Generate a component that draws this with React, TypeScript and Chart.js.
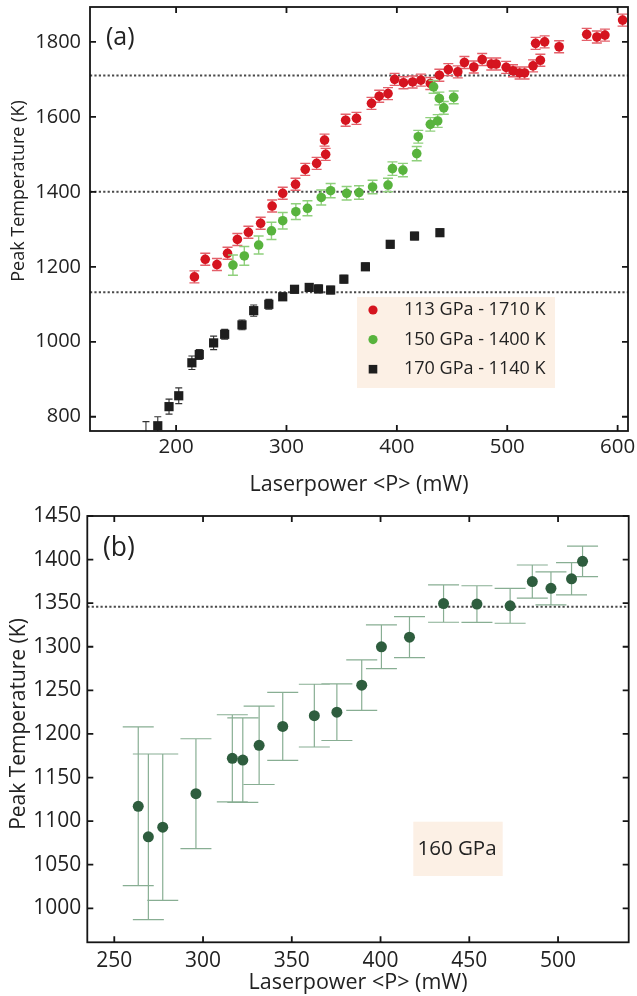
import React, { useEffect, useRef } from "react";
import { Chart, registerables } from "chart.js";

Chart.register(...registerables);

const FONT = "'Open Sans', 'Noto Sans', sans-serif";
const TEXT = "#222222";

// ---------- Panel (a) data ----------
const redX = [216.6, 226.4, 237, 246.6, 255.5, 265.5, 276.6, 287, 296.6, 308.2, 317, 327.3, 334.5, 335.5, 353.6, 363.4, 377, 384, 392, 398, 406, 414.3, 421.8, 430.3, 438.5, 446.6, 455.2, 461.2, 469.7, 477.3, 485.5, 490, 499, 505.2, 511.2, 515.7, 523.4, 525.7, 530, 533.9, 547, 572, 581.2, 588.5, 604.5];
const redY = [1173, 1220, 1206, 1236, 1273, 1292, 1316, 1362, 1396, 1420, 1460, 1476, 1538, 1500, 1591, 1596, 1636, 1655, 1662, 1700, 1691, 1693, 1698, 1689, 1711, 1726, 1720, 1745, 1733, 1753, 1741, 1741, 1732, 1723, 1717, 1717, 1736, 1796, 1751, 1800, 1787, 1820, 1813, 1818, 1858];
const redErr = redX.map(() => 16);

const greenX = [251.5, 261.8, 274.8, 286.4, 296.6, 308.5, 319, 331.5, 340, 354.5, 365.7, 378, 392, 396, 405.5, 418, 419.4, 430.3, 433.3, 437, 438.5, 442.5, 451.5];
const greenY = [1204.5, 1229, 1258, 1296, 1323, 1347, 1356, 1385, 1403, 1396, 1398, 1413, 1418, 1462, 1458, 1502, 1547, 1580, 1680, 1589, 1649, 1624, 1652];
const greenErr = [27, 25, 24, 23, 22, 21, 20, 20, 19, 18, 18, 18, 18, 18, 18, 19, 17, 18, 17, 17, 17, 17, 17];

const blackX = [172.7, 183.4, 193.6, 202.4, 214.3, 221, 234, 244, 259.7, 270.3, 284, 296.6, 307.3, 320.6, 329, 340, 352, 371.5, 394, 416, 439];
const blackY = [745, 776, 827, 856, 944, 966, 997, 1020, 1045, 1083, 1100, 1120, 1140, 1145, 1141, 1138, 1167, 1200, 1260, 1282, 1291];
const blackErr = [42, 24, 20, 21, 18, 13, 18, 13, 13, 15, 13, 10, 10, 10, 10, 10, 10, 10, 10, 10, 10];

const refLinesA = [1710, 1400, 1132];
const xRangeA = [122, 609.4];
const yRangeA = [762, 1893];
const xTicksA = [200, 300, 400, 500, 600];
const yTicksA = [800, 1000, 1200, 1400, 1600, 1800];
const legendLabelsA = ["113 GPa - 1710 K", "150 GPa - 1400 K", "170 GPa - 1140 K"];

// ---------- Panel (b) data ----------
const bX = [263.5, 269.2, 277.3, 296, 316.5, 322.4, 331.6, 344.9, 362.7, 375.4, 389.4, 400.5, 416.3, 435.5, 454.3, 473, 485.5, 496, 507.6, 513.8];
const bY = [1117, 1082, 1093, 1131.5, 1172, 1170, 1187, 1208.6, 1221, 1225, 1256, 1300, 1311, 1349.6, 1349, 1347, 1374.8, 1367, 1378, 1398];
const bErr = [91, 95, 84, 63, 50, 48.5, 45, 39, 36, 32.5, 29, 25, 23.5, 21.5, 21, 20, 19, 19, 18.5, 17.5];

const refLinesB = [1346];
const xRangeB = [234.8, 539.8];
const yRangeB = [961, 1450];
const xTicksB = [250, 300, 350, 400, 450, 500];
const yTicksB = [1000, 1050, 1100, 1150, 1200, 1250, 1300, 1350, 1400, 1450];
const boxLabelB = "160 GPa";

const xTitle = "Laserpower <P> (mW)";
const yTitle = "Peak Temperature (K)";

const zip = (xs: number[], ys: number[]) => xs.map((x, i) => ({ x, y: ys[i] }));

// ---------- Plugins ----------
const errorBarPlugin = {
  id: "errbars",
  beforeDatasetDraw(chart: any, args: any) {
    const ds = chart.data.datasets[args.index];
    if (!ds.errors) return;
    const { ctx, chartArea: a } = chart;
    const ys = chart.scales.y;
    ctx.save();
    ctx.beginPath();
    ctx.rect(a.left, a.top, a.right - a.left, a.bottom - a.top);
    ctx.clip();
    ctx.strokeStyle = ds.errColor;
    ctx.lineWidth = ds.errWidth;
    ctx.beginPath();
    args.meta.data.forEach((el: any, i: number) => {
      const v = ds.data[i];
      const e = ds.errors[i];
      const x = el.x;
      const y1 = ys.getPixelForValue(v.y + e);
      const y2 = ys.getPixelForValue(v.y - e);
      const c = ds.capHalf;
      ctx.moveTo(x, y1);
      ctx.lineTo(x, y2);
      ctx.moveTo(x - c, y1);
      ctx.lineTo(x + c, y1);
      ctx.moveTo(x - c, y2);
      ctx.lineTo(x + c, y2);
    });
    ctx.stroke();
    ctx.restore();
  },
};

const framePlugin = {
  id: "frame",
  afterDatasetsDraw(chart: any) {
    const { ctx, chartArea: a, scales } = chart;
    ctx.save();
    ctx.strokeStyle = "#151515";
    ctx.lineWidth = 1.8;
    ctx.strokeRect(a.left, a.top, a.right - a.left, a.bottom - a.top);
    const tl = 6;
    ctx.beginPath();
    scales.x.ticks.forEach((t: any) => {
      const p = scales.x.getPixelForValue(t.value);
      ctx.moveTo(p, a.bottom);
      ctx.lineTo(p, a.bottom - tl);
      ctx.moveTo(p, a.top);
      ctx.lineTo(p, a.top + tl);
    });
    scales.y.ticks.forEach((t: any) => {
      const p = scales.y.getPixelForValue(t.value);
      ctx.moveTo(a.left, p);
      ctx.lineTo(a.left + tl, p);
      ctx.moveTo(a.right, p);
      ctx.lineTo(a.right - tl, p);
    });
    ctx.stroke();
    ctx.restore();
  },
};

const annotPlugin = {
  id: "annot",
  afterDraw(chart: any, _args: any, opts: any) {
    const { ctx } = chart;
    ctx.save();
    ctx.save();
    ctx.translate(opts.yTitleX, opts.yTitleY);
    ctx.rotate(-Math.PI / 2);
    ctx.font = `${opts.yTitleSize}px ${FONT}`;
    ctx.fillStyle = TEXT;
    ctx.textAlign = "center";
    ctx.textBaseline = "middle";
    ctx.fillText(yTitle, 0, 0);
    ctx.restore();
    ctx.font = `${opts.panelSize}px ${FONT}`;
    ctx.fillStyle = TEXT;
    ctx.textAlign = "left";
    ctx.textBaseline = "middle";
    ctx.fillText(opts.panel, opts.panelX, opts.panelY);
    if (opts.box) {
      const b = opts.box;
      ctx.fillStyle = "#fcf0e5";
      ctx.fillRect(b.x, b.y, b.w, b.h);
    }
    if (opts.legend) {
      const L = opts.legend;
      ctx.font = `${L.size}px ${FONT}`;
      L.items.forEach((it: any, i: number) => {
        const y = L.y0 + i * L.dy;
        ctx.fillStyle = it.color;
        if (it.shape === "rect") {
          ctx.fillRect(L.mx - 4.3, y - 4.3, 8.6, 8.6);
        } else {
          ctx.beginPath();
          ctx.arc(L.mx, y, 4.6, 0, Math.PI * 2);
          ctx.fill();
        }
        ctx.fillStyle = TEXT;
        ctx.textAlign = "left";
        ctx.textBaseline = "middle";
        ctx.fillText(it.label, L.tx, y);
      });
    }
    if (opts.boxText) {
      const t = opts.boxText;
      ctx.font = `${t.size}px ${FONT}`;
      ctx.fillStyle = TEXT;
      ctx.textAlign = "center";
      ctx.textBaseline = "middle";
      ctx.fillText(t.text, t.x, t.y);
    }
    ctx.restore();
  },
};

function makeScales(o: any) {
  return {
    x: {
      type: "linear",
      min: o.xRange[0],
      max: o.xRange[1],
      afterBuildTicks: (s: any) => {
        s.ticks = o.xTicks.map((v: number) => ({ value: v }));
      },
      afterFit: (s: any) => {
        s.height = o.xAxisH;
        s.paddingLeft = 0;
        s.paddingRight = 0;
      },
      grid: { display: false, drawTicks: false },
      border: { display: false },
      ticks: {
        font: { family: FONT, size: o.xTickSize },
        color: TEXT,
        padding: o.xTickPad,
        maxRotation: 0,
        autoSkip: false,
        callback: (v: any) => String(v),
      },
      title: {
        display: true,
        text: xTitle,
        color: TEXT,
        font: { family: FONT, size: o.xTitleSize },
        padding: 0,
      },
    },
    y: {
      type: "linear",
      min: o.yRange[0],
      max: o.yRange[1],
      afterBuildTicks: (s: any) => {
        s.ticks = o.yTicks.map((v: number) => ({ value: v }));
      },
      afterFit: (s: any) => {
        s.width = o.yAxisW;
        s.paddingTop = 0;
        s.paddingBottom = 0;
      },
      grid: { display: false, drawTicks: false },
      border: { display: false },
      ticks: {
        font: { family: FONT, size: o.yTickSize },
        color: TEXT,
        padding: o.yTickPad,
        autoSkip: false,
        callback: (v: any) => String(v),
      },
    },
  };
}

function refLine(v: number, xr: number[]) {
  return {
    type: "line",
    data: [
      { x: xr[0], y: v },
      { x: xr[1], y: v },
    ],
    borderColor: "#4a4a4a",
    borderWidth: 2,
    borderDash: [2.2, 2.2],
    pointRadius: 0,
    fill: false,
    showLine: true,
    order: 10,
  };
}

function configA(): any {
  return {
    type: "scatter",
    data: {
      datasets: [
        ...refLinesA.map((v) => refLine(v, xRangeA)),
        {
          label: legendLabelsA[0],
          data: zip(redX, redY),
          errors: redErr,
          errColor: "#e4606a",
          errWidth: 1.4,
          capHalf: 5,
          backgroundColor: "#d5141f",
          borderColor: "#d5141f",
          borderWidth: 0,
          pointRadius: 4.8,
          pointStyle: "circle",
          order: 3,
        },
        {
          label: legendLabelsA[1],
          data: zip(greenX, greenY),
          errors: greenErr,
          errColor: "#8fd07c",
          errWidth: 1.4,
          capHalf: 5,
          backgroundColor: "#58b33d",
          borderColor: "#58b33d",
          borderWidth: 0,
          pointRadius: 4.8,
          pointStyle: "circle",
          order: 2,
        },
        {
          label: legendLabelsA[2],
          data: zip(blackX, blackY),
          errors: blackErr,
          errColor: "#333333",
          errWidth: 1.1,
          capHalf: 3.5,
          backgroundColor: "#1e1e1e",
          borderColor: "#1e1e1e",
          borderWidth: 0,
          pointRadius: 6.5,
          pointStyle: "rect",
          order: 1,
        },
      ],
    },
    options: {
      responsive: false,
      animation: false,
      devicePixelRatio: 1,
      events: [],
      layout: { padding: { left: 0, right: 9, top: 7, bottom: 0 } },
      scales: makeScales({
        xRange: xRangeA,
        yRange: yRangeA,
        xTicks: xTicksA,
        yTicks: yTicksA,
        xAxisH: 67,
        yAxisW: 90,
        xTickSize: 20.5,
        yTickSize: 20,
        xTickPad: 4,
        yTickPad: 9,
        xTitleSize: 21.5,
      }),
      plugins: {
        legend: { display: false },
        tooltip: { enabled: false },
        annot: {
          yTitleX: 19,
          yTitleY: 191,
          yTitleSize: 18,
          panel: "(a)",
          panelX: 106,
          panelY: 38,
          panelSize: 25,
          box: { x: 357, y: 297, w: 198, h: 91 },
          legend: {
            size: 18,
            mx: 373,
            tx: 404,
            y0: 310,
            dy: 29.6,
            items: [
              { label: legendLabelsA[0], color: "#d5141f", shape: "circle" },
              { label: legendLabelsA[1], color: "#58b33d", shape: "circle" },
              { label: legendLabelsA[2], color: "#1e1e1e", shape: "rect" },
            ],
          },
        },
      },
    },
    plugins: [errorBarPlugin, framePlugin, annotPlugin],
  };
}

function configB(): any {
  return {
    type: "scatter",
    data: {
      datasets: [
        ...refLinesB.map((v) => refLine(v, xRangeB)),
        {
          label: boxLabelB,
          data: zip(bX, bY),
          errors: bErr,
          errColor: "#88ae93",
          errWidth: 1.2,
          capHalf: 15.5,
          backgroundColor: "#2e5d3e",
          borderColor: "#2e5d3e",
          borderWidth: 0,
          pointRadius: 5.5,
          pointStyle: "circle",
          order: 1,
        },
      ],
    },
    options: {
      responsive: false,
      animation: false,
      devicePixelRatio: 1,
      events: [],
      layout: { padding: { left: 0, right: 8.3, top: 18, bottom: 0 } },
      scales: makeScales({
        xRange: xRangeB,
        yRange: yRangeB,
        xTicks: xTicksB,
        yTicks: yTicksB,
        xAxisH: 53.7,
        yAxisW: 87.3,
        xTickSize: 21,
        yTickSize: 21,
        xTickPad: 6,
        yTickPad: 6,
        xTitleSize: 21.5,
      }),
      plugins: {
        legend: { display: false },
        tooltip: { enabled: false },
        annot: {
          yTitleX: 19,
          yTitleY: 226,
          yTitleSize: 21,
          panel: "(b)",
          panelX: 103,
          panelY: 50,
          panelSize: 26.5,
          box: { x: 413.3, y: 323.7, w: 89.4, h: 54.3 },
          boxText: { text: boxLabelB, x: 457, y: 351, size: 20.5 },
        },
      },
    },
    plugins: [errorBarPlugin, framePlugin, annotPlugin],
  };
}

export default function App() {
  const refA = useRef<HTMLCanvasElement>(null);
  const refB = useRef<HTMLCanvasElement>(null);
  useEffect(() => {
    const a = new Chart(refA.current as HTMLCanvasElement, configA());
    const b = new Chart(refB.current as HTMLCanvasElement, configB());
    return () => {
      a.destroy();
      b.destroy();
    };
  }, []);
  return (
    <div style={{ position: "absolute", left: 0, top: 0, width: 637, height: 996, background: "#ffffff" }}>
      <canvas ref={refA} width={637} height={498} style={{ display: "block", width: 637, height: 498 }} />
      <canvas ref={refB} width={637} height={498} style={{ display: "block", width: 637, height: 498 }} />
    </div>
  );
}
